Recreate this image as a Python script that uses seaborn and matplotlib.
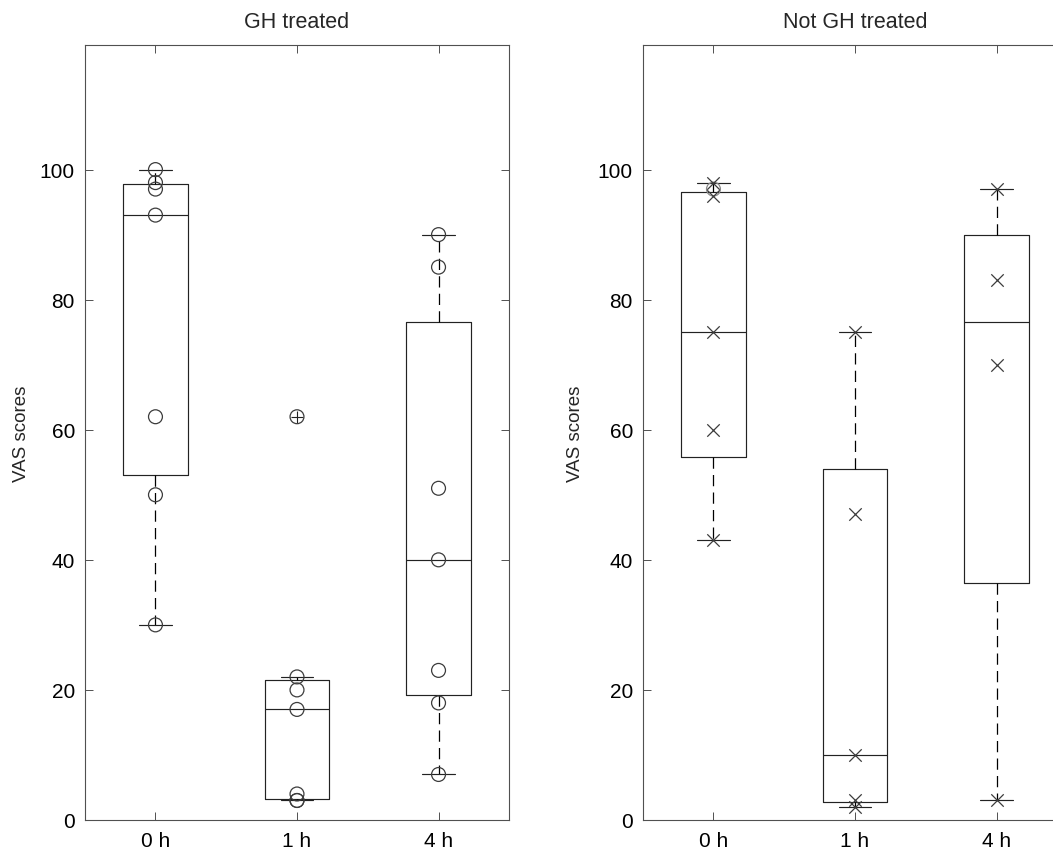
import numpy as np
import pandas as pd
import matplotlib
matplotlib.use("Agg")
import matplotlib.pyplot as plt
import seaborn as sns

# Zeitpunkte
times = ["0 h", "1 h", "4 h"]

# VAS scores, GH treated (circles)
gh_0h = [100, 98, 97, 93, 62, 50, 30]
gh_1h = [62, 22, 20, 17, 4, 3, 3]
gh_4h = [90, 85, 51, 40, 23, 18, 7]

# VAS scores, not GH treated (crosses)
ngh_0h = [98, 96, 75, 60, 43]
ngh_1h = [75, 47, 10, 3, 2]
ngh_4h = [97, 83, 70, 3]

# single open circle that shows up on the right 0 h box
ngh_extra_time = ["0 h"]
ngh_extra_score = [97]

INK = "#222222"
SPINE = "#505050"

sns.set_theme(style="ticks")
plt.rcParams["font.family"] = ["Liberation Sans", "DejaVu Sans"]


def matlab_box_stats(values):
    # MATLAB boxplot uses prctile -> (i - 0.5) / n, i.e. numpy's "hazen"
    v = np.sort(np.asarray(values, dtype=float))
    q1, med, q3 = np.percentile(v, [25, 50, 75], method="hazen")
    iqr = q3 - q1
    lo, hi = q1 - 1.5 * iqr, q3 + 1.5 * iqr
    inside = v[(v >= lo) & (v <= hi)]
    return dict(med=med, q1=q1, q3=q3,
                whislo=inside.min(), whishi=inside.max(),
                fliers=v[(v < lo) | (v > hi)])


def long_form(groups):
    rows = []
    for t, vals in zip(times, groups):
        for s in vals:
            rows.append({"time": t, "pos": times.index(t) + 1, "score": s})
    return pd.DataFrame(rows)


def draw_panel(ax, groups, marker, title):
    stats = [matlab_box_stats(g) for g in groups]
    ax.bxp(stats, positions=[1, 2, 3], widths=0.457, showfliers=True,
           boxprops=dict(color=INK, linewidth=0.85),
           medianprops=dict(color=INK, linewidth=0.85),
           whiskerprops=dict(color="black", linewidth=0.9, linestyle=(0, (9, 5))),
           capprops=dict(color=INK, linewidth=0.85),
           flierprops=dict(marker="+", markersize=9, markeredgecolor=INK,
                           markeredgewidth=0.8))

    df = long_form(groups)
    if marker == "o":
        sns.scatterplot(data=df, x="pos", y="score", marker="o", s=100,
                        color=INK, facecolor="none", edgecolor="#3c3c3c",
                        linewidth=0.9, legend=False, ax=ax, zorder=3)
    else:
        sns.scatterplot(data=df, x="pos", y="score", marker="x", s=80,
                        color="#3c3c3c", linewidth=0.9, legend=False,
                        ax=ax, zorder=3)

    ax.set_xlim(0.5, 3.5)
    ax.set_ylim(0, 119.2)
    ax.set_xticks([1, 2, 3])
    ax.set_xticklabels(times)
    ax.set_yticks(np.arange(0, 101, 20))
    ax.set_xlabel("")
    ax.set_title(title, fontsize=15.5, pad=12.5)
    ax.tick_params(direction="in", length=5.8, width=0.7, color=SPINE,
                   labelsize=15, top=True, right=True, labelcolor="black")
    ax.tick_params(axis="y", pad=7)
    ax.tick_params(axis="x", pad=8)
    for sp in ax.spines.values():
        sp.set_visible(True)
        sp.set_color(SPINE)
        sp.set_linewidth(0.8)


fig = plt.figure(figsize=(10.53, 8.53), dpi=100)
W, H = 1053.0, 853.0
ax_w = 424.6 / W
ax_h = (821.0 - 45.7) / H
ax_b = (H - 821.0) / H

ax1 = fig.add_axes([84.7 / W, ax_b, ax_w, ax_h])
draw_panel(ax1, [gh_0h, gh_1h, gh_4h], "o", "GH treated")
ax1.set_ylabel("VAS scores", fontsize=13.5, va="center")
ax1.yaxis.set_label_coords(-0.150, 0.5)

ax2 = fig.add_axes([642.7 / W, ax_b, ax_w, ax_h])
draw_panel(ax2, [ngh_0h, ngh_1h, ngh_4h], "x", "Not GH treated")
extra = pd.DataFrame({"pos": [times.index(t) + 1 for t in ngh_extra_time],
                      "score": ngh_extra_score})
sns.scatterplot(data=extra, x="pos", y="score", marker="o", s=100,
                color=INK, facecolor="none", edgecolor="#8a8a8a",
                linewidth=0.9, legend=False, ax=ax2, zorder=2)
ax2.set_xlabel("")
ax2.set_ylabel("VAS scores", fontsize=13.5, va="center")
ax2.yaxis.set_label_coords(-0.159, 0.5)

fig.savefig("out.png", dpi=100)
